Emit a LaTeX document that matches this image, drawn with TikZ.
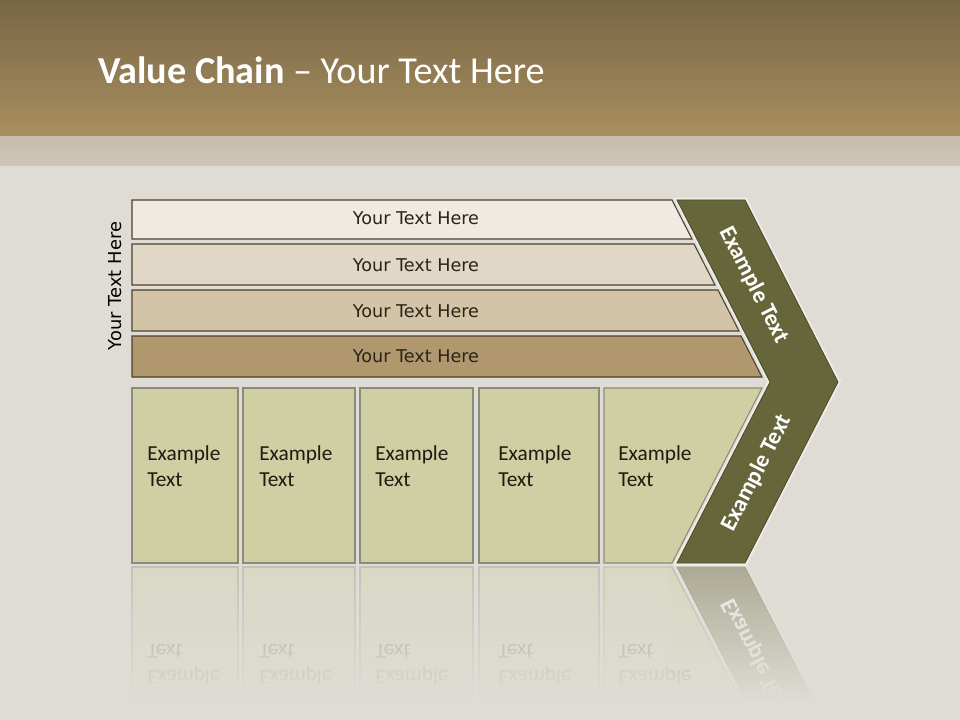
\documentclass[tikz,border=0pt]{standalone}
\usepackage{fontspec}
\setmainfont{Carlito}
\newfontfamily\verdfont{DejaVu Sans}
\usetikzlibrary{fadings}

\definecolor{hdtop}{HTML}{786646}
\definecolor{hdbot}{HTML}{A98F5F}
\definecolor{stripc}{HTML}{C7BEAD}
\definecolor{bgc}{HTML}{DFDCD5}
\definecolor{barone}{HTML}{EFEBE3}
\definecolor{bartwo}{HTML}{E0D7C6}
\definecolor{barthree}{HTML}{D3C4A7}
\definecolor{barfour}{HTML}{B0976E}
\definecolor{barline}{HTML}{4D3F2E}
\definecolor{boxfill}{HTML}{CFCFA3}
\definecolor{boxline}{HTML}{8B8B7B}
\definecolor{chevfill}{HTML}{66663A}
\definecolor{chevline}{HTML}{4A4A2A}
\definecolor{halo}{HTML}{EEECE6}
\definecolor{darktext}{HTML}{2A2418}
\definecolor{boxtext}{HTML}{1C1C10}

\tikzfading[name=reflfade, top color=transparent!42, bottom color=transparent!0]

\tikzset{
  barshape/.style={draw=barline, line width=0.8pt},
  boxshape/.style={draw=boxline, line width=0.8pt, fill=boxfill},
  chevshape/.style={draw=chevline, line width=0.6pt, fill=chevfill},
  halostyle/.style={draw=halo, line width=3.5pt, line join=miter},
  bartxt/.style={anchor=base, inner sep=0, text=darktext, font=\verdfont\fontsize{13.2}{16}\selectfont},
  sidetxt/.style={inner sep=0, text=black, rotate=90, font=\verdfont\fontsize{13.4}{16}\selectfont},
  boxtxt/.style={anchor=base west, inner sep=0, text=boxtext, font=\fontsize{16}{19}\selectfont},
  chevtxt/.style={inner sep=0, text=white, font=\bfseries\fontsize{17.5}{21}\selectfont},
}

\newcommand{\lowerpart}[1]{%
  \draw[halostyle] (677,563) -- (745,563) -- (838,382) -- (770,382) -- cycle;
  \path[boxshape] (132,388) rectangle (238,563);
  \path[boxshape] (243,388) rectangle (355,563);
  \path[boxshape] (360,388) rectangle (473,563);
  \path[boxshape] (479,388) rectangle (599,563);
  \path[boxshape] (604,388) -- (762,388) -- (672,563) -- (604,563) -- cycle;
  \node[boxtxt] (#1ba) at (147,460) {Example};
  \node[boxtxt] (#1bb) at (147,486) {Text};
  \node[boxtxt] (#1ca) at (259,460) {Example};
  \node[boxtxt] (#1cb) at (259,486) {Text};
  \node[boxtxt] (#1da) at (375,460) {Example};
  \node[boxtxt] (#1db) at (375,486) {Text};
  \node[boxtxt] (#1ea) at (498,460) {Example};
  \node[boxtxt] (#1eb) at (498,486) {Text};
  \node[boxtxt] (#1fa) at (618,460) {Example};
  \node[boxtxt] (#1fb) at (618,486) {Text};
}

\begin{document}
\begin{tikzpicture}[x=0.75pt,y=-0.75pt]
\useasboundingbox (0,0) rectangle (960,720);
% background
\fill[bgc] (0,0) rectangle (960,720);
\shade[top color=hdtop, bottom color=hdbot] (0,0) rectangle (960,137);
\shade[top color=stripc, bottom color=stripc!75!bgc] (0,137) rectangle (960,166);

% title
\node[anchor=base west, inner sep=0, text=white, font=\fontsize{28.6}{34}\selectfont] (title) at (98,84) {\textbf{Value Chain} -- Your Text Here};

% reflection (mirrored about y = 565)
\begin{scope}[shift={(0,565)}, yscale=-1, shift={(0,-565)}, every node/.append style={transform shape}]
  \lowerpart{r}
  \path[chevshape] (677,563) -- (745,563) -- (838,382) -- (770,382) -- cycle;
  \node[chevtxt, rotate=63] (rlow) at (757,473) {Example Text};
\end{scope}
\fill[bgc, opacity=0.25] (0,566) rectangle (670,700);
\fill[bgc, path fading=reflfade] (0,566) rectangle (960,700);
\fill[bgc] (0,700) rectangle (960,720);

% bars
\path[barshape, fill=barone]   (132,200) -- (672,200) -- (692,239) -- (132,239) -- cycle;
\path[barshape, fill=bartwo]   (132,244) -- (694,244) -- (715,285) -- (132,285) -- cycle;
\path[barshape, fill=barthree] (132,290) -- (718,290) -- (739,331) -- (132,331) -- cycle;
\path[barshape, fill=barfour]  (132,336) -- (741,336) -- (762,377) -- (132,377) -- cycle;
\node[bartxt] (t1) at (416,225) {Your Text Here};
\node[bartxt] (t2) at (416,272) {Your Text Here};
\node[bartxt] (t3) at (416,317) {Your Text Here};
\node[bartxt] (t4) at (416,362) {Your Text Here};
\node[sidetxt] (side) at (115,286) {Your Text Here};

% chevron
\draw[halostyle] (677,200) -- (745,200) -- (838,382) -- (745,563) -- (677,563) -- (770,382) -- cycle;
\lowerpart{}
\path[chevshape] (677,200) -- (745,200) -- (838,382) -- (745,563) -- (677,563) -- (770,382) -- cycle;
\node[chevtxt, rotate=-63] (up) at (754,285) {Example Text};
\node[chevtxt, rotate=63] (low) at (757,473) {Example Text};
\end{tikzpicture}
\end{document}
